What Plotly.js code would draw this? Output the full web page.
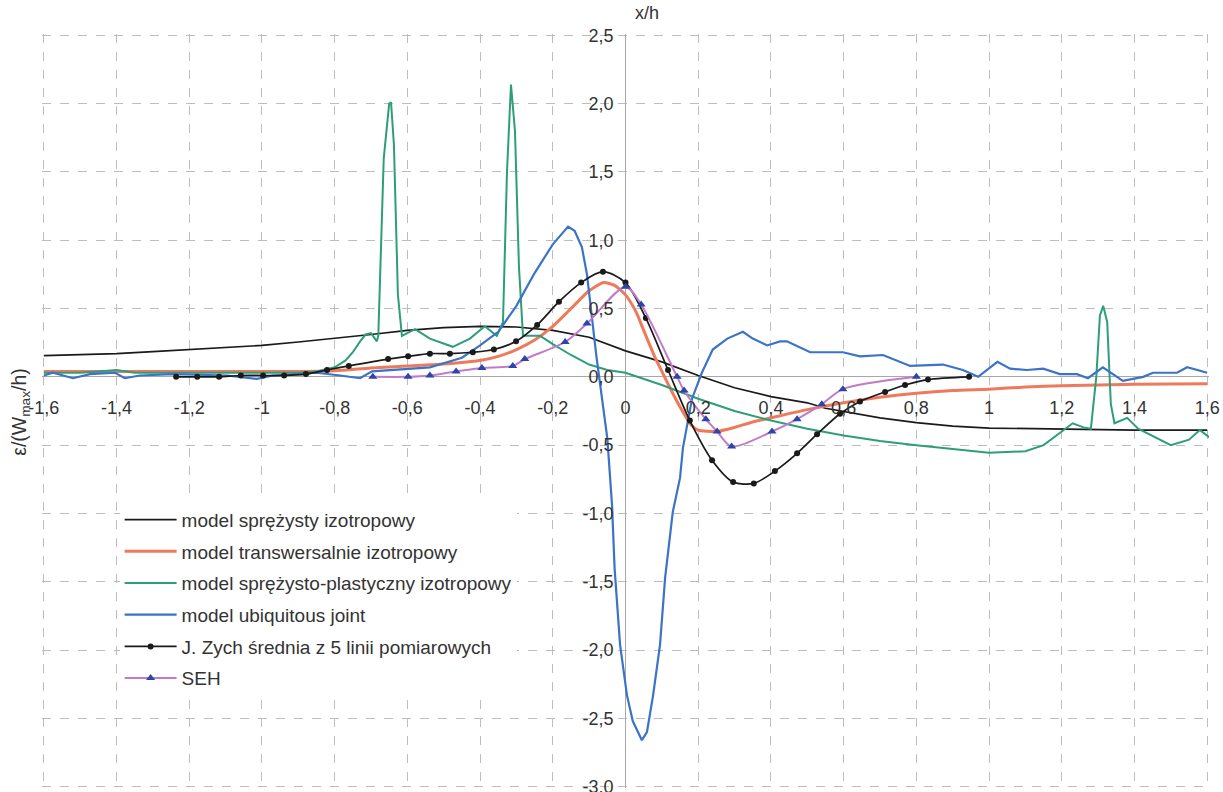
<!DOCTYPE html>
<html>
<head>
<meta charset="utf-8">
<script src="https://cdn.plot.ly/plotly-3.0.1.min.js"></script>
<style>html,body{margin:0;padding:0;background:#fff;}#chart{width:1223px;height:792px;}</style>
</head>
<body>
<div id="chart"></div>
<script>
// ---- data ----
const seriesNames = [
  "model sprężysty izotropowy",
  "model transwersalnie izotropowy",
  "model sprężysto-plastyczny izotropowy",
  "model ubiquitous joint",
  "J. Zych średnia z 5 linii pomiarowych",
  "SEH"
];

const elasticX = [-1.6,-1.5,-1.4,-1.3,-1.2,-1.1,-1.0,-0.9,-0.8,-0.7,-0.6,-0.5,-0.4,-0.3,-0.2,-0.1,0,0.1,0.2,0.3,0.4,0.5,0.55,0.6,0.7,0.8,0.9,1.0,1.1,1.2,1.3,1.4,1.5,1.6];
const elasticY = [0.155,0.16,0.17,0.185,0.2,0.215,0.23,0.255,0.28,0.31,0.34,0.36,0.37,0.365,0.34,0.29,0.19,0.11,0.01,-0.08,-0.145,-0.19,-0.23,-0.255,-0.3,-0.335,-0.36,-0.375,-0.38,-0.385,-0.385,-0.39,-0.39,-0.39];

const transX = [-1.6,-1.4,-1.2,-1.0,-0.9,-0.8,-0.7,-0.6,-0.5,-0.4,-0.35,-0.3,-0.25,-0.2,-0.15,-0.1,-0.06,-0.03,0,0.03,0.05,0.08,0.1,0.13,0.15,0.18,0.2,0.25,0.3,0.35,0.4,0.5,0.6,0.7,0.8,0.9,1.0,1.1,1.2,1.4,1.6];
const transY = [0.04,0.04,0.04,0.04,0.04,0.045,0.065,0.08,0.095,0.12,0.15,0.2,0.27,0.37,0.5,0.63,0.69,0.67,0.6,0.47,0.34,0.15,0.04,-0.12,-0.22,-0.35,-0.39,-0.4,-0.37,-0.33,-0.3,-0.24,-0.19,-0.15,-0.12,-0.1,-0.09,-0.075,-0.065,-0.055,-0.05];

const plasticX = [-1.6,-1.5,-1.45,-1.4,-1.35,-1.3,-1.2,-1.0,-0.9,-0.85,-0.8,-0.77,-0.75,-0.73,-0.715,-0.7,-0.684,-0.68,-0.665,-0.65,-0.645,-0.637,-0.626,-0.615,-0.579,-0.538,-0.475,-0.428,-0.387,-0.354,-0.337,-0.326,-0.315,-0.304,-0.293,-0.282,-0.235,-0.2,-0.15,-0.1,-0.05,0,0.1,0.2,0.3,0.4,0.5,0.6,0.7,0.8,0.9,1.0,1.1,1.15,1.2,1.23,1.26,1.28,1.295,1.305,1.314,1.325,1.335,1.345,1.38,1.41,1.5,1.55,1.58,1.61];
const plasticY = [0.03,0.03,0.04,0.05,0.03,0.03,0.03,0.03,0.03,0.04,0.07,0.12,0.18,0.26,0.31,0.32,0.26,0.3,1.6,2.0,2.01,1.7,0.6,0.3,0.35,0.28,0.22,0.28,0.37,0.3,0.4,1.5,2.14,1.8,0.8,0.3,0.3,0.24,0.16,0.09,0.05,0.03,-0.06,-0.16,-0.25,-0.32,-0.38,-0.43,-0.47,-0.5,-0.53,-0.555,-0.545,-0.5,-0.4,-0.34,-0.37,-0.38,0.0,0.45,0.52,0.4,-0.2,-0.34,-0.3,-0.38,-0.5,-0.46,-0.39,-0.45];

const ubiqX = [-1.6,-1.575,-1.52,-1.473,-1.404,-1.377,-1.336,-1.245,-1.096,-1.014,-0.97,-0.915,-0.849,-0.785,-0.73,-0.697,-0.65,-0.593,-0.538,-0.475,-0.45,-0.4,-0.35,-0.3,-0.25,-0.2,-0.158,-0.14,-0.12,-0.106,-0.08,-0.05,-0.037,-0.03,-0.015,0.004,0.02,0.045,0.059,0.076,0.095,0.109,0.13,0.15,0.158,0.183,0.21,0.24,0.28,0.323,0.35,0.39,0.425,0.444,0.508,0.598,0.645,0.708,0.783,0.873,0.928,0.97,1.023,1.058,1.104,1.149,1.195,1.242,1.272,1.313,1.368,1.424,1.451,1.517,1.545,1.6];
const ubiqY = [0.01,0.03,-0.01,0.02,0.03,-0.01,0.01,0.02,0.01,-0.015,0.01,0.02,0.03,0.01,-0.01,0.04,0.05,0.06,0.07,0.12,0.14,0.23,0.33,0.52,0.76,0.97,1.1,1.07,0.95,0.75,0.15,-0.45,-0.94,-1.4,-1.96,-2.33,-2.52,-2.66,-2.6,-2.33,-1.96,-1.47,-0.99,-0.74,-0.52,-0.16,0.03,0.2,0.28,0.33,0.28,0.23,0.26,0.26,0.18,0.18,0.15,0.16,0.08,0.09,0.05,0.0,0.11,0.06,0.05,0.06,0.02,0.02,-0.01,0.07,-0.03,0.0,0.03,0.03,0.07,0.03];

const zychX = [-1.236,-1.178,-1.118,-1.058,-0.997,-0.939,-0.879,-0.821,-0.761,-0.653,-0.598,-0.538,-0.483,-0.42,-0.362,-0.301,-0.243,-0.183,-0.122,-0.062,0.0,0.056,0.117,0.177,0.238,0.296,0.353,0.411,0.472,0.527,0.59,0.645,0.714,0.769,0.832,0.945];
const zychY = [0.0,0.0,0.0,0.01,0.01,0.01,0.02,0.05,0.08,0.13,0.15,0.17,0.17,0.18,0.2,0.26,0.38,0.55,0.69,0.77,0.69,0.43,0.05,-0.32,-0.61,-0.77,-0.78,-0.69,-0.56,-0.42,-0.27,-0.18,-0.11,-0.06,-0.02,0.0];

const sehX = [-0.695,-0.598,-0.538,-0.466,-0.395,-0.31,-0.277,-0.166,-0.106,0.0,0.043,0.142,0.161,0.221,0.252,0.292,0.403,0.472,0.54,0.598,0.8];
const sehY = [0.0,0.0,0.01,0.04,0.065,0.08,0.13,0.255,0.39,0.66,0.53,0.0,-0.1,-0.31,-0.4,-0.51,-0.4,-0.31,-0.2,-0.09,0.0];

const xTickVals = [-1.6,-1.4,-1.2,-1,-0.8,-0.6,-0.4,-0.2,0,0.2,0.4,0.6,0.8,1,1.2,1.4,1.6];
const xTickText = ["-1,6","-1,4","-1,2","-1","-0,8","-0,6","-0,4","-0,2","0","0,2","0,4","0,6","0,8","1","1,2","1,4","1,6"];
const yTickVals = [2.5,2,1.5,1,0.5,0,-0.5,-1,-1.5,-2,-2.5,-3];
const yTickText = ["2,5","2,0","1,5","1,0","0,5","0,0","-0,5","-1,0","-1,5","-2,0","-2,5","-3,0"];

// ---- chart ----
const FONT = "Liberation Sans, Arial, sans-serif";
const X_RANGE = [-1.605, 1.605];
const Y_RANGE = [-3.01, 2.51];

const traces = [
  {x: elasticX, y: elasticY, name: seriesNames[0], mode: "lines", line: {color: "#1a1a1a", width: 1.7}, legendgroup: "a"},
  {x: transX, y: transY, name: seriesNames[1], mode: "lines", line: {color: "#ee7a5c", width: 3, shape: "spline", smoothing: 0.6}, legendgroup: "b"},
  {x: plasticX, y: plasticY, name: seriesNames[2], mode: "lines", line: {color: "#2e9e7a", width: 2}, legendgroup: "c"},
  {x: ubiqX, y: ubiqY, name: seriesNames[3], mode: "lines", line: {color: "#3b73c6", width: 2.2}, legendgroup: "d"},
  {x: zychX, y: zychY, name: seriesNames[4], mode: "lines+markers", line: {color: "#1a1a1a", width: 1.7, shape: "spline", smoothing: 0.8}, marker: {color: "#1a1a1a", size: 6, symbol: "circle"}, legendgroup: "e"},
  {x: sehX, y: sehY, name: seriesNames[5], mode: "lines+markers", line: {color: "#c27ac9", width: 2, shape: "spline", smoothing: 0.8}, marker: {color: "#2d45a8", size: 8, symbol: "triangle-up"}, legendgroup: "f"}
];

const layout = {
  width: 1223, height: 792,
  margin: {l: 42, r: 14, t: 34, b: 4},
  paper_bgcolor: "#fff", plot_bgcolor: "#fff",
  font: {family: FONT, size: 18, color: "#333"},
  showlegend: true,
  legend: {
    x: 0.0665, y: 0.381, xanchor: "left", yanchor: "top",
    bgcolor: "#fff", borderwidth: 0,
    font: {family: FONT, size: 19, color: "#333"},
    tracegroupgap: 4, itemwidth: 52, traceorder: "grouped"
  },
  xaxis: {
    range: X_RANGE, anchor: "free", position: (0 - Y_RANGE[0]) / (Y_RANGE[1] - Y_RANGE[0]),
    tickvals: xTickVals, ticktext: xTickText,
    showgrid: true, gridcolor: "#bdbdbd", griddash: "dash", gridwidth: 1,
    zeroline: true, zerolinecolor: "#a8a8a8", zerolinewidth: 1.2,
    showline: false, ticks: "", ticklabelstandoff: 18, ticklabeloverflow: "allow",
    tickfont: {family: FONT, size: 18, color: "#333"}
  },
  yaxis: {
    range: Y_RANGE, anchor: "free", position: 0.5,
    tickvals: yTickVals, ticktext: yTickText,
    showgrid: true, gridcolor: "#bdbdbd", griddash: "dash", gridwidth: 1,
    zeroline: true, zerolinecolor: "#a8a8a8", zerolinewidth: 1.2,
    showline: false, ticks: "", ticklabelstandoff: 12, ticklabeloverflow: "allow",
    tickfont: {family: FONT, size: 18, color: "#333"}
  },
  annotations: [
    {text: "x/h", xref: "x", yref: "paper", x: 0.02, y: 1, yshift: 9, xanchor: "left", yanchor: "bottom", showarrow: false, font: {family: FONT, size: 18, color: "#333"}},
    {text: "ε/(W<sub>max</sub>/h)", xref: "paper", yref: "paper", x: 0, xshift: -21, y: 0.499, textangle: -90, xanchor: "center", yanchor: "middle", showarrow: false, font: {family: FONT, size: 19.5, color: "#333"}}
  ]
};

Plotly.newPlot("chart", traces, layout, {displayModeBar: false, staticPlot: true});
</script>
</body>
</html>
